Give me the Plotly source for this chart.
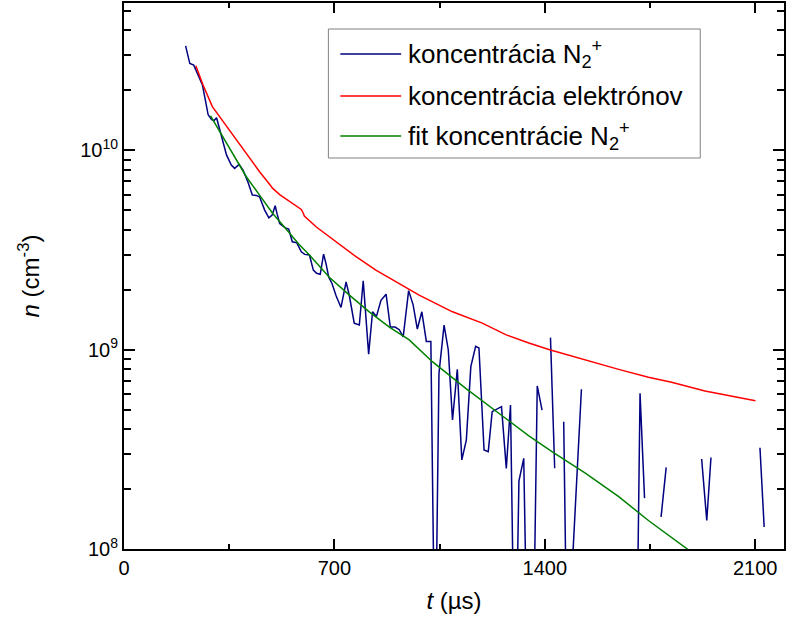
import plotly.graph_objects as go

# Measured N2+ concentration (cm^-3) versus time (µs); None marks non-positive samples
n2_time = [205, 219, 232, 246, 261, 272, 280, 291, 299, 308, 316, 327, 341, 357, 368,
           383, 396, 412, 427, 440, 451, 468, 482, 493, 503, 509, 518, 528, 537, 548,
           560, 575, 590, 601, 617, 630, 641, 653, 664, 672, 681, 692, 706, 722, 739,
           750, 766, 783, 796, 814, 827, 840, 855, 872, 886, 902, 916, 929, 947, 962,
           976, 991, 1006, 1021, 1035, 1048, 1065, 1079, 1093, 1109, 1124, 1139, 1154,
           1170, 1181, 1198, 1212, 1225, 1241, 1256, 1272, 1286, 1301, 1314, 1330, 1345,
           1359, 1375, 1391, 1406, 1419, 1433, 1448, 1463, 1478, 1492, 1507, 1522, 1536,
           1703, 1717, 1732, 1746, 1787, 1804, 1818, 1922, 1939, 1953, 1968, 2116, 2130]
n2_conc = [3.35e10, 2.73e10, 2.68e10, 2.39e10, 2.13e10, 1.75e10, 1.51e10, 1.43e10, 1.41e10,
           1.46e10, 1.32e10, 1.13e10, 9.5e9, 8.45e9, 8.13e9, 8.51e9, 7.98e9, 6.97e9, 5.97e9,
           5.95e9, 5.86e9, 5.02e9, 4.59e9, 4.74e9, 5.28e9, 4.83e9, 4.30e9, 4.18e9, 4.09e9,
           4.03e9, 3.48e9, 3.44e9, 3.10e9, 3.01e9, 2.99e9, 2.51e9, 2.42e9, 2.39e9, 3.02e9,
           2.71e9, 2.32e9, 2.15e9, 1.86e9, 1.63e9, 2.19e9, 1.86e9, 1.36e9, 1.33e9, 2.22e9,
           9.5e8, 1.55e9, 1.47e9, 1.77e9, 1.90e9, 1.30e9, 1.30e9, 1.26e9, 1.16e9, 1.98e9,
           1.68e9, 1.27e9, 1.55e9, 1.10e9, 1.10e9, 2e7, 7.62e8, 1.33e9, 9.97e8, 4.44e8,
           7.98e8, 2.80e8, 3.52e8, 8.22e8, 1.04e9, 1.02e9, 3.14e8, 3.08e8, 4.89e8, 5.04e8,
           5.18e8, 2.54e8, 5.28e8, 1.5e7, 2.19e8, 2.85e8, 1.5e7, 1.5e7, 6.58e8, 4.98e8,
           None, 1.15e9, 2.54e8, None, 4.35e8, 1e7, 8.5e7, 2.4e8, 6.33e8, None,
           1.2e7, 6.04e8, 1.8e8, None, 1.45e8, 2.57e8, None, 2.83e8, 1.39e8, 2.88e8,
           None, 3.22e8, 1.29e8]

# Electron concentration (cm^-3)
e_time = [239, 263, 294, 319, 363, 407, 451, 475, 495, 518, 540, 565, 590, 597, 600, 639,
          717, 772, 838, 905, 947, 982, 1093, 1192, 1270, 1347, 1419, 1535, 1646, 1745,
          1822, 1933, 2101]
e_conc = [2.66e10, 2.13e10, 1.66e10, 1.47e10, 1.19e10, 9.66e9, 7.82e9, 7.05e9, 6.45e9,
          6.0e9, 5.69e9, 5.35e9, 5.06e9, 4.83e9, 4.69e9, 4.14e9, 3.38e9, 2.93e9, 2.51e9,
          2.19e9, 2.01e9, 1.88e9, 1.55e9, 1.36e9, 1.19e9, 1.08e9, 9.96e8, 8.87e8, 7.97e8,
          7.27e8, 6.86e8, 6.2e8, 5.55e8]

# Fitted N2+ concentration (cm^-3)
fit_time = [288, 319, 363, 407, 451, 495, 540, 582, 617, 683, 750, 816, 883, 949, 1026,
            1137, 1247, 1347, 1424, 1535, 1646, 1745, 1878]
fit_conc = [1.49e10, 1.24e10, 9.48e9, 7.38e9, 5.97e9, 4.83e9, 4.02e9, 3.38e9, 2.99e9,
            2.31e9, 1.88e9, 1.55e9, 1.30e9, 1.12e9, 8.71e8, 6.40e8, 4.80e8, 3.70e8,
            3.08e8, 2.40e8, 1.83e8, 1.39e8, 9.9e7]

series_names = ["koncentrácia N<sub>2</sub><sup>+</sup>",
                "koncentrácia elektrónov",
                "fit koncentrácie N<sub>2</sub><sup>+</sup>"]
series_colors = ["#000080", "#ff0000", "#008000"]

x_ticks = [0, 700, 1400, 2100]
x_minor = [350, 1050, 1750]
y_ticks = [1e8, 1e9, 1e10]
y_ticklabels = ["10<sup>8</sup>", "10<sup>9</sup>", "10<sup>10</sup>"]
y_minor = [m * 10 ** e for e in (8, 9, 10) for m in range(2, 10) if m * 10 ** e < 5.6e10]

W, H = 786, 633
ML, MR, MT, MB = 124, 0, 3, 84
FONT = "Liberation Sans, Arial, sans-serif"

fig = go.Figure()
for (tx, ny), name, col in zip([(n2_time, n2_conc), (e_time, e_conc), (fit_time, fit_conc)],
                               series_names, series_colors):
    fig.add_trace(go.Scatter(x=tx, y=ny, mode="lines", name=name, showlegend=False,
                             connectgaps=False, line=dict(color=col, width=1.5)))

axis_common = dict(showline=True, linecolor="black", linewidth=2, mirror="ticks",
                   ticks="inside", tickcolor="black", tickwidth=2, showgrid=False,
                   zeroline=False, tickfont=dict(family=FONT, size=20, color="black"))

fig.update_xaxes(range=[0, 2196], tickvals=x_ticks, ticklen=10,
                 minor=dict(tickvals=x_minor, ticklen=5, ticks="inside", tickwidth=1.5,
                            tickcolor="black", showgrid=False),
                 title=dict(text="<i>t</i> (µs)", font=dict(family=FONT, size=24, color="black"),
                            standoff=14),
                 **axis_common)
fig.update_yaxes(type="log", range=[8, 10.74], tickvals=y_ticks, ticktext=y_ticklabels,
                 ticklen=11,
                 minor=dict(tickvals=y_minor, ticklen=7, ticks="inside", tickwidth=1.5,
                            tickcolor="black", showgrid=False),
                 title=dict(text="<i>n</i> (cm<sup>-3</sup>)",
                            font=dict(family=FONT, size=24, color="black"), standoff=34),
                 **axis_common)

# Legend box drawn in paper coordinates
pw, ph = W - ML - MR, H - MT - MB
def px(x):
    return (x - ML) / pw
def py(y):
    return (H - MB - y) / ph

shapes = [dict(type="rect", xref="paper", yref="paper", x0=px(329), x1=px(702),
               y0=py(158), y1=py(29), line=dict(color="#808080", width=1),
               fillcolor="white", layer="above")]
annotations = []
for i, (name, col) in enumerate(zip(series_names, series_colors)):
    yl = [54, 96, 136][i]
    shapes.append(dict(type="line", xref="paper", yref="paper", x0=px(341), x1=px(402),
                       y0=py(yl), y1=py(yl), line=dict(color=col, width=1.5), layer="above"))
    annotations.append(dict(text=name, xref="paper", yref="paper", x=px(407), y=py(yl),
                            xanchor="left", yanchor="middle", showarrow=False,
                            font=dict(family=FONT, size=26, color="black")))

fig.update_layout(width=W, height=H, margin=dict(l=ML, r=MR, t=MT, b=MB),
                  paper_bgcolor="white", plot_bgcolor="white",
                  shapes=shapes, annotations=annotations)

fig.write_html("out.html")
